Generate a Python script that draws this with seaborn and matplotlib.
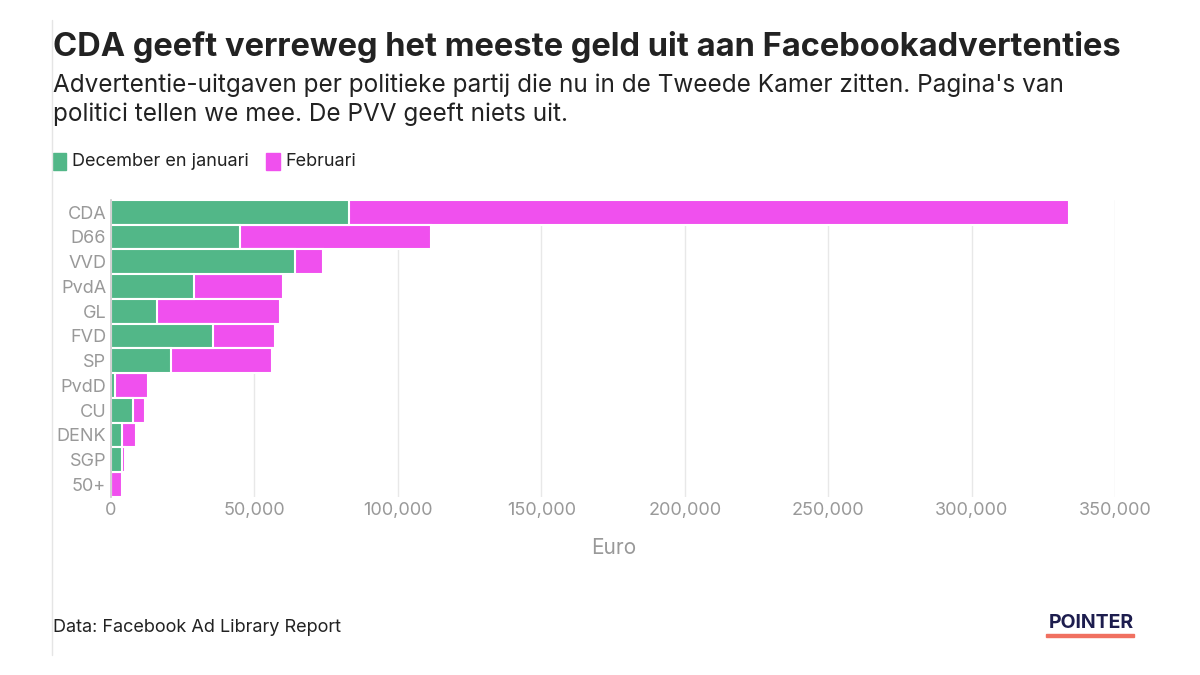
import matplotlib
matplotlib.use("Agg")
import matplotlib.pyplot as plt
import seaborn as sns
import pandas as pd

# Values (euro)
parties = ["CDA", "D66", "VVD", "PvdA", "GL", "FVD", "SP", "PvdD", "CU", "DENK", "SGP", "50+"]
dec_jan = [83000, 45000, 64000, 29000, 16000, 35500, 21000, 1500, 7700, 4000, 3800, 0]
februari = [251000, 66500, 10000, 31000, 43000, 21500, 35000, 11500, 4300, 4700, 1200, 4000]

green = "#52b788"
pink = "#f050ee"

df = pd.DataFrame({"partij": parties, "dec": dec_jan, "feb": februari})
df["totaal"] = df["dec"] + df["feb"]

sns.set_theme(style="white")
plt.rcParams["font.family"] = ["Inter", "DejaVu Sans"]

fig = plt.figure(figsize=(12, 6.75), dpi=100)
ax = fig.add_axes([0.0925, 0.264, 0.837, 0.44])

sns.barplot(data=df, y="partij", x="totaal", color=pink, width=1.0, saturation=1,
            edgecolor="white", linewidth=1.5, ax=ax, orient="h")
sns.barplot(data=df, y="partij", x="dec", color=green, width=1.0, saturation=1,
            edgecolor="white", linewidth=1.5, ax=ax, orient="h")

ax.set_xlim(0, 350000)
ax.set_xticks(range(0, 350001, 50000))
ax.set_xticklabels([f"{v:,}" for v in range(0, 350001, 50000)])
ax.xaxis.grid(True, color="#e8e8e8", linewidth=1)
ax.set_axisbelow(True)
for s in ["top", "right", "bottom"]:
    ax.spines[s].set_visible(False)
ax.spines["left"].set_color("#cccccc")
ax.tick_params(axis="both", colors="#999999", labelsize=13, length=0)
ax.set_ylabel("")
ax.set_xlabel("Euro", color="#999999", fontsize=15, labelpad=14)

fig.text(0.044, 0.93, "CDA geeft verreweg het meeste geld uit aan Facebookadvertenties",
         fontsize=23.5, fontweight="bold", color="#222222", va="center")
fig.text(0.044, 0.852, "Advertentie-uitgaven per politieke partij die nu in de Tweede Kamer zitten. Pagina's van\npolitici tellen we mee. De PVV geeft niets uit.",
         fontsize=17.5, color="#222222", va="center", linespacing=1.3)

# legend
fig.patches.append(plt.Rectangle((0.044, 0.748), 0.011, 0.026, transform=fig.transFigure,
                                 color=green))
fig.text(0.060, 0.761, "December en januari", fontsize=13, color="#222222", va="center")
fig.patches.append(plt.Rectangle((0.222, 0.748), 0.011, 0.026, transform=fig.transFigure,
                                 color=pink))
fig.text(0.238, 0.761, "Februari", fontsize=13, color="#222222", va="center")

fig.text(0.044, 0.07, "Data: Facebook Ad Library Report", fontsize=13, color="#222222", va="center")
fig.text(0.945, 0.077, "POINTER", fontsize=14, fontweight="bold", color="#1d1d4e",
         ha="right", va="center")
fig.patches.append(plt.Rectangle((0.872, 0.057), 0.073, 0.004, transform=fig.transFigure,
                                 color="#f07060"))
fig.lines.append(plt.Line2D([0.043, 0.043], [0.03, 0.97], transform=fig.transFigure,
                            color="#e5e5e5", linewidth=1))

fig.savefig("out.png", dpi=100)
